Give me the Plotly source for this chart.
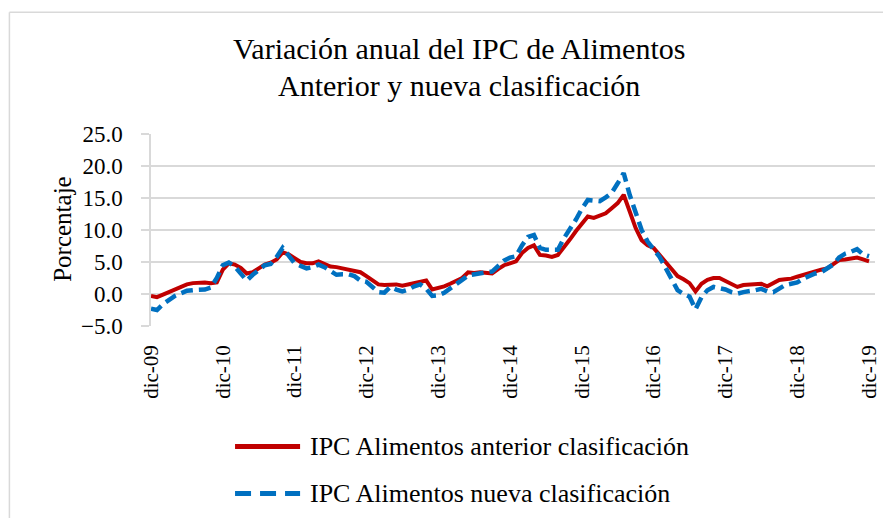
import plotly.graph_objects as go

# Monthly series, dic-09 .. dic-19 (121 months)
MONTHS = list(range(121))
TICK_POS = list(range(0, 121, 12))
TICK_TEXT = ["dic-09", "dic-10", "dic-11", "dic-12", "dic-13", "dic-14",
             "dic-15", "dic-16", "dic-17", "dic-18", "dic-19"]

ANTERIOR = [
    -0.3, -0.5, -0.1, 0.3, 0.8, 1.2, 1.5, 1.7, 1.8, 1.8, 1.7, 1.8,
    3.8, 4.8, 4.6, 4.1, 3.2, 3.4, 4.0, 4.6, 4.9, 5.4, 6.5, 6.2,
    5.6, 5.0, 4.8, 4.8, 5.1, 4.7, 4.3, 4.2, 4.0, 3.8, 3.7, 3.4,
    2.8, 2.2, 1.5, 1.4, 1.5, 1.5, 1.3, 1.5, 1.7, 1.9, 2.1, 0.7,
    0.9, 1.2, 1.6, 2.1, 2.5, 3.4, 3.3, 3.4, 3.3, 3.2, 3.9, 4.5,
    4.8, 5.1, 6.4, 7.2, 7.6, 6.1, 6.0, 5.8, 6.1, 7.2, 8.5, 9.8,
    11.0, 12.1, 11.9, 12.2, 12.6, 13.4, 14.2, 15.5, 13.0, 10.3, 8.4, 7.6,
    7.2, 6.2, 5.0, 3.9, 2.8, 2.3, 1.7, 0.4, 1.6, 2.2, 2.5, 2.5,
    2.0, 1.5, 1.1, 1.4, 1.5, 1.5, 1.6, 1.2, 1.7, 2.2, 2.3, 2.4,
    2.7, 3.0, 3.3, 3.5, 3.8, 4.0, 4.6, 5.3, 5.4, 5.5, 5.7, 5.4,
    5.1,
]

NUEVA = [
    -2.3, -2.5, -1.6, -0.9, -0.3, 0.1, 0.5, 0.6, 0.7, 0.7, 1.0, 2.5,
    4.5, 4.9, 4.3, 3.1, 2.1, 3.0, 3.8, 4.5, 4.7, 5.8, 7.2, 6.1,
    4.8, 4.4, 4.0, 4.2, 4.6, 4.2, 3.5, 3.0, 3.1, 3.1, 2.8, 2.1,
    1.9, 1.2, 0.3, 0.2, 1.1, 0.7, 0.4, 0.7, 1.2, 1.5, 0.8, -0.3,
    -0.2, 0.2, 0.8, 1.5, 2.2, 2.9, 3.1, 3.2, 3.4, 3.5, 4.3, 5.2,
    5.7, 5.9, 7.6, 8.9, 9.2, 7.2, 6.9, 6.9, 6.9, 8.7, 10.0, 11.6,
    13.3, 14.7, 14.6, 14.5, 15.1, 15.8, 17.3, 18.9, 15.5, 12.6, 10.0, 8.2,
    7.0, 5.8, 4.1, 2.4, 0.6, 0.0, -0.4, -2.4, -0.5, 0.6, 1.1, 0.9,
    0.7, 0.3, 0.05, 0.3, 0.4, 0.6, 0.8, 0.4, 0.3, 0.9, 1.4, 1.6,
    1.8, 2.4, 2.8, 3.2, 3.4, 4.0, 4.6, 5.7, 6.3, 6.6, 7.0, 6.2,
    5.9,
]

RED = "#C00000"
BLUE = "#0070C0"
GRID = "#d9d9d9"
FONT = "Liberation Serif, serif"

fig = go.Figure()
fig.add_trace(go.Scatter(
    x=MONTHS, y=ANTERIOR, mode="lines", name="IPC Alimentos anterior clasificación",
    line=dict(color=RED, width=4),
))
fig.add_trace(go.Scatter(
    x=MONTHS, y=NUEVA, mode="lines", name="IPC Alimentos nueva clasificación",
    line=dict(color=BLUE, width=4.5, dash="12px,6px"),
))

# page has an 8px body margin, so the figure is drawn 8px in from the window edge
PAGE_OFF = 8
W, H = 891 - 2 * PAGE_OFF, 526 - 2 * PAGE_OFF
# plot area in window pixels: x 151..874.6, y 134..326.3
L, R, T, B = 151, 874.6, 134, 326.3


def px_x(x):
    return (x - L) / (R - L)


def px_y(y):
    return (B - y) / (B - T)


fig.update_layout(
    width=W, height=H,
    margin=dict(l=L - PAGE_OFF, r=W - (R - PAGE_OFF), t=T - PAGE_OFF,
                b=H - (B - PAGE_OFF), pad=0),
    paper_bgcolor="white", plot_bgcolor="white",
    font=dict(family=FONT, color="black", size=21),
    showlegend=False,
    xaxis=dict(
        range=[0, 121], tickvals=TICK_POS, ticktext=TICK_TEXT, tickangle=-90,
        showgrid=False, zeroline=False, showline=False, ticks="",
        ticklabelstandoff=14, tickfont=dict(size=21), automargin=False,
    ),
    xaxis2=dict(
        range=[0, 121], overlaying="x", anchor="free", position=5 / 30,
        tickvals=TICK_POS, showticklabels=False, ticks="outside", ticklen=7,
        tickcolor=GRID, tickwidth=1.5, showgrid=False, zeroline=False, showline=False,
    ),
    yaxis=dict(
        range=[-5, 25], dtick=5, tickformat=".1f", gridcolor=GRID, gridwidth=1.5,
        zeroline=False, showline=True, linecolor=GRID, linewidth=1.5,
        ticks="outside", ticklen=8, tickcolor=GRID, tickwidth=1.5,
        ticklabelstandoff=14, tickfont=dict(size=23), automargin=False,
    ),
)

# chart frame (left and top edges visible, the rest runs off the window)
fig.add_shape(type="line", xref="paper", yref="paper",
              x0=px_x(9.5), x1=px_x(9.5), y0=px_y(530), y1=px_y(12),
              line=dict(color=GRID, width=1.5), layer="below")
fig.add_shape(type="line", xref="paper", yref="paper",
              x0=px_x(9.5), x1=px_x(895), y0=px_y(12), y1=px_y(12),
              line=dict(color=GRID, width=1.5), layer="below")

# title (two lines)
fig.add_annotation(text="Variación anual del IPC de Alimentos", xref="paper", yref="paper",
                   x=px_x(459), y=px_y(48), showarrow=False, font=dict(size=30),
                   xanchor="center", yanchor="middle")
fig.add_annotation(text="Anterior y nueva clasificación", xref="paper", yref="paper",
                   x=px_x(459), y=px_y(85), showarrow=False, font=dict(size=30),
                   xanchor="center", yanchor="middle")

# y axis title
fig.add_annotation(text="Porcentaje", xref="paper", yref="paper",
                   x=px_x(63), y=px_y(229), showarrow=False, textangle=-90,
                   font=dict(size=25), xanchor="center", yanchor="middle")

# legend (drawn by hand to match the long line samples)
fig.add_shape(type="line", xref="paper", yref="paper",
              x0=px_x(235), x1=px_x(300), y0=px_y(447), y1=px_y(447),
              line=dict(color=RED, width=5))
fig.add_shape(type="line", xref="paper", yref="paper",
              x0=px_x(235), x1=px_x(300), y0=px_y(494), y1=px_y(494),
              line=dict(color=BLUE, width=5, dash="16px,9px"))
fig.add_annotation(text="IPC Alimentos anterior clasificación", xref="paper", yref="paper",
                   x=px_x(308), y=px_y(447), showarrow=False, font=dict(size=26),
                   xanchor="left", yanchor="middle")
fig.add_annotation(text="IPC Alimentos nueva clasificación", xref="paper", yref="paper",
                   x=px_x(308), y=px_y(494), showarrow=False, font=dict(size=26),
                   xanchor="left", yanchor="middle")

fig.write_html("out.html")
